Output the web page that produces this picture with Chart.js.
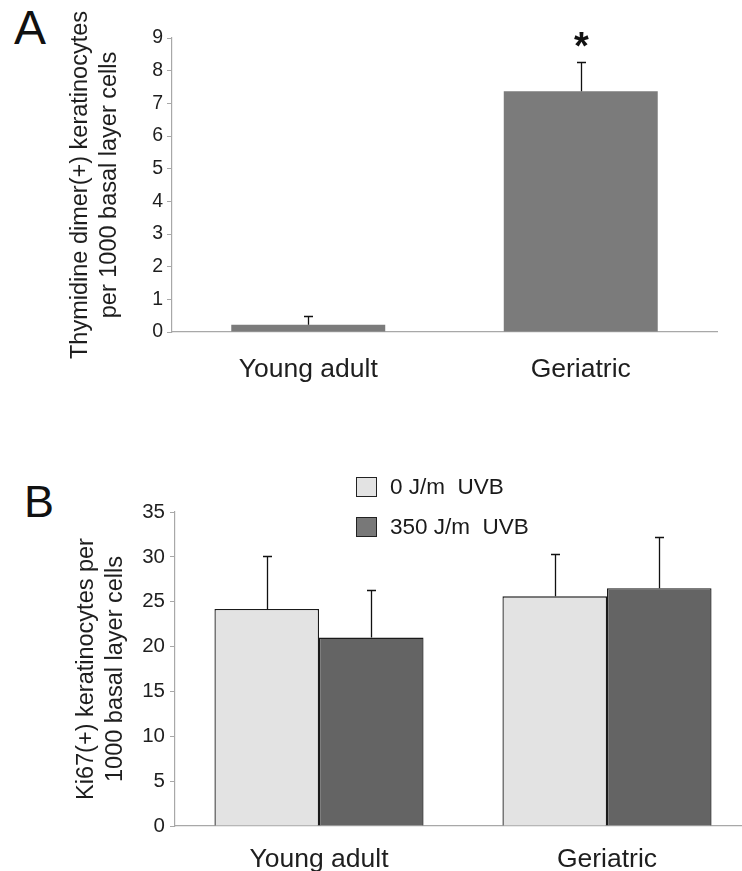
<!DOCTYPE html>
<html>
<head>
<meta charset="utf-8">
<script src="https://cdn.jsdelivr.net/npm/chart.js@4/dist/chart.umd.min.js"></script>
<style>
  html, body { margin: 0; padding: 0; background: #fff; }
  #wrap { position: relative; width: 742px; height: 871px; overflow: hidden; background: #fff; }
  .panel { position: absolute; font-family: "Liberation Sans", Arial, sans-serif; color: #111; line-height: 1; }
  .box { position: absolute; left: 0; }
</style>
</head>
<body>
<div id="wrap">
  <div class="panel" style="left:14px;top:4px;font-size:48px;">A</div>
  <div class="panel" style="left:24px;top:479px;font-size:45px;">B</div>
  <div class="box" style="top:0;width:742px;height:400px;"><canvas id="chartA" width="742" height="400"></canvas></div>
  <div class="box" style="top:430px;width:752px;height:441px;"><canvas id="chartB" width="752" height="441"></canvas></div>
</div>
<script>
// ---------- data ----------
const categories = ['Young adult', 'Geriatric'];

// Panel A
const dimerMeans = [0.22, 7.37];
const dimerErrors = [0.27, 0.89];
const dimerMarks = ['', '*'];
const dimerTicks = [0, 1, 2, 3, 4, 5, 6, 7, 8, 9];
const dimerTitle = ['Thymidine dimer(+) keratinocytes', 'per 1000 basal layer cells'];

// Panel B
const ki67Series = ['0 J/m  UVB', '350 J/m  UVB'];
const ki67NoUVB = [24.2, 25.6];
const ki67NoUVBErr = [5.9, 4.7];
const ki67UVB = [21.0, 26.5];
const ki67UVBErr = [5.3, 5.7];
const ki67Ticks = [0, 5, 10, 15, 20, 25, 30, 35];
const ki67Title = ['Ki67(+) keratinocytes per', '1000 basal layer cells'];

// ---------- plugins ----------
const FONT = '"Liberation Sans", Arial, sans-serif';

const errorBars = {
  id: 'errorBars',
  afterDatasetsDraw(chart, args, opts) {
    const ctx = chart.ctx;
    const y = chart.scales.y;
    ctx.save();
    ctx.strokeStyle = opts.color || '#111';
    ctx.lineWidth = opts.width || 1.3;
    const cap = opts.cap || 4.5;
    chart.data.datasets.forEach((ds, i) => {
      if (!ds.errors) return;
      const meta = chart.getDatasetMeta(i);
      meta.data.forEach((bar, j) => {
        const v = ds.data[j], e = ds.errors[j];
        const x = Math.round(bar.x) + 0.5;
        const y0 = y.getPixelForValue(v);
        const y1 = Math.round(y.getPixelForValue(v + e)) + 0.5;
        ctx.beginPath();
        ctx.moveTo(x, y0);
        ctx.lineTo(x, y1);
        ctx.moveTo(x - cap, y1);
        ctx.lineTo(x + cap, y1);
        ctx.stroke();
        if (ds.marks && ds.marks[j]) {
          ctx.fillStyle = '#111';
          ctx.font = 'bold 38px ' + FONT;
          ctx.textAlign = 'center';
          ctx.textBaseline = 'alphabetic';
          ctx.fillText(ds.marks[j], x, y1 - 4);
        }
      });
    });
    ctx.restore();
  }
};

const manualLegend = {
  id: 'manualLegend',
  afterDraw(chart, args, o) {
    if (!o || !o.show) return;
    const ctx = chart.ctx;
    ctx.save();
    chart.data.datasets.forEach((ds, i) => {
      const bx = o.x, by = o.y + i * o.rowGap;
      ctx.fillStyle = ds.legendColor || ds.backgroundColor;
      ctx.fillRect(bx, by, o.boxW, o.boxH);
      ctx.strokeStyle = '#222';
      ctx.lineWidth = 1;
      ctx.strokeRect(bx + 0.5, by + 0.5, o.boxW - 1, o.boxH - 1);
      ctx.fillStyle = '#1a1a1a';
      ctx.font = o.fontSize + 'px ' + FONT;
      ctx.textAlign = 'left';
      ctx.textBaseline = 'middle';
      ctx.fillText(ds.label, bx + o.boxW + o.textGap, by + o.boxH / 2 + 1);
    });
    ctx.restore();
  }
};

function yScale(ticksArr, title, tickSize, tickPad, titlePad, width) {
  return {
    min: ticksArr[0],
    max: ticksArr[ticksArr.length - 1],
    afterBuildTicks: s => { s.ticks = ticksArr.map(v => ({ value: v })); },
    afterFit: s => { s.width = width; },
    grid: { display: true, drawOnChartArea: false, drawTicks: true, tickLength: 5, color: '#a8a8a8', lineWidth: 1 },
    border: { display: true, color: '#a8a8a8', width: 1.2 },
    ticks: { color: '#1e1e1e', padding: tickPad, font: { family: FONT, size: tickSize } },
    title: {
      display: true, text: title, color: '#1e1e1e',
      font: { family: FONT, size: 23.5, lineHeight: '29px' },
      padding: { top: titlePad, bottom: 0 }
    }
  };
}

function xScale(height, pad) {
  return {
    afterFit: s => { s.height = height; },
    grid: { display: false },
    border: { display: true, color: '#a8a8a8', width: 1.2 },
    ticks: { color: '#1e1e1e', padding: pad, font: { family: FONT, size: 26.5 }, maxRotation: 0 }
  };
}

const common = {
  responsive: false,
  animation: false,
  devicePixelRatio: 1,
  plugins: { legend: { display: false }, tooltip: { enabled: false } },
};

// ---------- Panel A ----------
new Chart(document.getElementById('chartA'), {
  type: 'bar',
  data: {
    labels: categories,
    datasets: [{
      label: 'Thymidine dimer',
      data: dimerMeans,
      errors: dimerErrors,
      marks: dimerMarks,
      backgroundColor: '#7b7b7b',
      borderWidth: 0,
      categoryPercentage: 0.565,
      barPercentage: 1
    }]
  },
  options: Object.assign({}, common, {
    layout: { padding: { top: 38, right: 25, left: 0, bottom: 0 } },
    scales: {
      x: xScale(68, 14),
      y: yScale(dimerTicks, dimerTitle, 19.5, 4, 66, 172)
    },
    plugins: Object.assign({}, common.plugins, { errorBars: { cap: 4.5, width: 1.3 } })
  }),
  plugins: [errorBars]
});

// ---------- Panel B ----------
new Chart(document.getElementById('chartB'), {
  type: 'bar',
  data: {
    labels: categories,
    datasets: [{
      label: ki67Series[0],
      data: ki67NoUVB,
      errors: ki67NoUVBErr,
      backgroundColor: '#e3e3e3',
      legendColor: '#e3e3e3',
      borderColor: '#1a1a1a',
      borderWidth: { top: 1.3, left: 1.3, right: 1.3, bottom: 0 },
      categoryPercentage: 0.726,
      barPercentage: 1
    }, {
      label: ki67Series[1],
      data: ki67UVB,
      errors: ki67UVBErr,
      backgroundColor: '#646464',
      legendColor: '#787878',
      borderColor: '#1a1a1a',
      borderWidth: { top: 1.3, left: 1.3, right: 1.3, bottom: 0 },
      categoryPercentage: 0.726,
      barPercentage: 1
    }]
  },
  options: Object.assign({}, common, {
    layout: { padding: { top: 82, right: 1, left: 0, bottom: 0 } },
    scales: {
      x: xScale(45, 10),
      y: yScale(ki67Ticks, ki67Title, 20.5, 5, 72, 175)
    },
    plugins: Object.assign({}, common.plugins, {
      errorBars: { cap: 4.5, width: 1.3 },
      manualLegend: { show: true, x: 356, y: 47, boxW: 21, boxH: 20, rowGap: 40, textGap: 13, fontSize: 22.5 }
    })
  }),
  plugins: [errorBars, manualLegend]
});
</script>
</body>
</html>
